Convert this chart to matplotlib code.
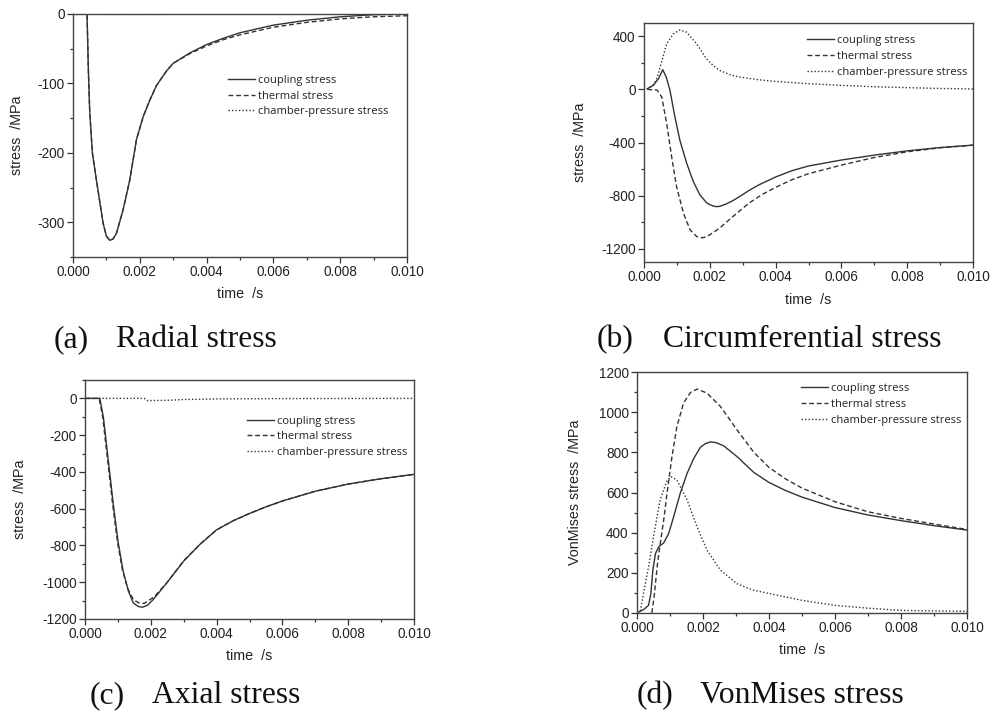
import matplotlib
matplotlib.use('Agg')
import matplotlib.pyplot as plt
from matplotlib.ticker import MultipleLocator, FormatStrFormatter

plt.rcParams['font.family'] = 'Liberation Sans'
plt.rcParams['axes.unicode_minus'] = False

# (a) radial stress
t_a_coup = [0, 0.0002, 0.00042, 0.00046, 0.0005, 0.00058, 0.0007, 0.0009, 0.001, 0.0011, 0.0012,
            0.0013, 0.0015, 0.0017, 0.0019, 0.0021, 0.0023, 0.0025, 0.0028, 0.003, 0.0035, 0.004,
            0.0045, 0.005, 0.006, 0.007, 0.008, 0.009, 0.010]
s_a_coup = [0, 0, 0, -80, -140, -200, -239, -301, -320, -326, -324,
            -316, -282, -239, -181, -148, -124, -103, -82, -71, -56, -44,
            -35, -27, -16, -9, -4, -1, 0]
t_a_therm = t_a_coup
s_a_therm = [0, 0, 0, -80, -140, -200, -239, -301, -320, -326, -324,
             -316, -282, -239, -181, -148, -124, -103, -82, -71, -57, -46,
             -37, -30, -19, -12, -7, -4, -2.5]
t_a_cham = [0, 0.0004, 0.0012, 0.0026, 0.004, 0.010]
s_a_cham = [0, 0, -0.5, -0.5, 0, 0]

# (b) circumferential stress
t_b_coup = [0.0001, 0.00028, 0.00044, 0.00057, 0.00068, 0.00079, 0.00094, 0.00109, 0.0013, 0.0015,
            0.0017, 0.0019, 0.002, 0.0021, 0.0022, 0.0023, 0.0025, 0.0027, 0.0029, 0.0032,
            0.0035, 0.004, 0.0045, 0.005, 0.006, 0.007, 0.008, 0.009, 0.010]
s_b_coup = [5, 30, 80, 148, 90, -8, -208, -383, -558, -695,
            -795, -853, -868, -878, -883, -881, -863, -838, -808, -760,
            -718, -660, -612, -577, -532, -495, -463, -438, -420]
t_b_therm = [0.0001, 0.0004, 0.00054, 0.00069, 0.00084, 0.00099, 0.0012, 0.0014, 0.0016, 0.00176,
             0.0019, 0.002, 0.0023, 0.0027, 0.0032, 0.0036, 0.004, 0.0045, 0.005, 0.006,
             0.007, 0.008, 0.009, 0.010]
s_b_therm = [0, -5, -58, -258, -508, -733, -933, -1058, -1108, -1118,
             -1110, -1095, -1045, -958, -855, -790, -738, -680, -635, -570,
             -513, -470, -440, -420]
t_b_cham = [0.0001, 0.0003, 0.0004, 0.00049, 0.00069, 0.00089, 0.00109, 0.0013, 0.0016, 0.0019,
            0.0021, 0.0023, 0.0026, 0.0029, 0.0035, 0.004, 0.005, 0.006, 0.007, 0.008,
            0.009, 0.010]
s_b_cham = [0, 40, 90, 168, 343, 418, 448, 430, 343, 230,
            180, 143, 112, 93, 72, 60, 43, 30, 20, 13,
            7, 3]

# (c) axial stress
t_c_coup = [0, 0.00045, 0.00056, 0.00071, 0.00086, 0.00101, 0.00116, 0.00132, 0.00147, 0.00162,
            0.00175, 0.0019, 0.00207, 0.00248, 0.003, 0.0035, 0.004, 0.0045, 0.005, 0.0055,
            0.006, 0.007, 0.008, 0.009, 0.010]
s_c_coup = [0, 0, -104, -340, -576, -785, -940, -1049, -1113, -1132,
            -1136, -1125, -1095, -1005, -885, -793, -715, -666, -626, -590,
            -558, -505, -466, -437, -413]
t_c_therm = [0, 0.00043, 0.00054, 0.00069, 0.00084, 0.00099, 0.00114, 0.0013, 0.00147, 0.00163,
             0.0018, 0.0021, 0.0025, 0.003, 0.0035, 0.004, 0.0045, 0.005, 0.0055, 0.006,
             0.007, 0.008, 0.009, 0.010]
s_c_therm = [0, 0, -104, -340, -576, -785, -935, -1035, -1095, -1112,
             -1115, -1080, -1000, -883, -793, -715, -666, -626, -590, -558,
             -505, -466, -437, -413]
t_c_cham = [0, 0.0018, 0.0019, 0.0026, 0.003, 0.004, 0.006, 0.010]
s_c_cham = [0, 0, -12, -10, -6, -3, -1, 0]

# (d) VonMises stress
t_d_coup = [0.00005, 0.0002, 0.00035, 0.00042, 0.00048, 0.00056, 0.00066, 0.00081, 0.00096, 0.00111,
            0.00131, 0.00152, 0.00172, 0.00192, 0.00207, 0.00222, 0.0024, 0.00263, 0.00303, 0.00354,
            0.004, 0.0045, 0.005, 0.006, 0.007, 0.008, 0.009, 0.010]
s_d_coup = [5, 17, 38, 97, 213, 296, 330, 349, 396, 479,
            596, 696, 770, 825, 843, 852, 848, 832, 779, 700,
            650, 610, 577, 525, 488, 460, 435, 413]
t_d_therm = [0.00045, 0.00053, 0.00061, 0.00069, 0.00081, 0.00091, 0.00106, 0.00121, 0.00141, 0.00162,
             0.00182, 0.00212, 0.00253, 0.00303, 0.00354, 0.004, 0.0045, 0.005, 0.006, 0.007,
             0.008, 0.009, 0.010]
s_d_therm = [0, 97, 230, 330, 463, 596, 779, 929, 1045, 1098,
             1115, 1095, 1028, 912, 800, 725, 668, 622, 554, 504,
             471, 443, 416]
t_d_cham = [0.0001, 0.0002, 0.00035, 0.0005, 0.0007, 0.0009, 0.00103, 0.00121, 0.00152, 0.00182,
            0.00212, 0.00253, 0.00303, 0.0035, 0.004, 0.005, 0.006, 0.007, 0.008, 0.010]
s_d_cham = [10, 100, 230, 380, 563, 655, 679, 662, 562, 429,
            313, 213, 146, 115, 97, 63, 38, 24, 13, 8]

labels = ['coupling stress', 'thermal stress', 'chamber-pressure stress']
captions = [('(a)', 'Radial stress'), ('(b)', 'Circumferential stress'),
            ('(c)', 'Axial stress'), ('(d)', 'VonMises stress')]

W, H = 990, 711
line_col = '#333333'


def px_axes(fig, left, top, right, bottom):
    return fig.add_axes([left / W, 1 - bottom / H, (right - left) / W, (bottom - top) / H])


def draw_panel(ax, series, ylim, ymajor, yminor, ylabel, leg_anchor, ylab_x, xlab_y):
    (tc, sc), (tt, st), (tp, sp) = series
    ax.plot(tc, sc, color=line_col, lw=1.0, ls='-', label=labels[0])
    ax.plot(tt, st, color=line_col, lw=1.0, ls=(0, (3.5, 2)), label=labels[1])
    ax.plot(tp, sp, color=line_col, lw=1.0, ls=(0, (1, 1.5)), label=labels[2])
    ax.set_xlim(0, 0.010)
    ax.set_ylim(*ylim)
    ax.xaxis.set_major_locator(MultipleLocator(0.002))
    ax.xaxis.set_minor_locator(MultipleLocator(0.001))
    ax.xaxis.set_major_formatter(FormatStrFormatter('%.3f'))
    ax.yaxis.set_major_locator(MultipleLocator(ymajor))
    ax.yaxis.set_minor_locator(MultipleLocator(yminor))
    ax.tick_params(which='both', direction='out', top=False, right=False,
                   colors='#333333', labelcolor='#222222', labelsize=9.8, width=0.9)
    ax.tick_params(which='major', length=4, pad=2)
    ax.tick_params(which='minor', length=2.5)
    for sp_ in ax.spines.values():
        sp_.set_color('#444444')
        sp_.set_linewidth(1.0)
    ax.set_xlabel('time  /s', fontsize=10.3, color='#222222')
    ax.set_ylabel(ylabel, fontsize=10.3, color='#222222')
    ax.xaxis.set_label_coords(0.5, xlab_y)
    ax.yaxis.set_label_coords(ylab_x, 0.5)
    leg = ax.legend(loc='upper left', bbox_to_anchor=leg_anchor, frameon=False,
                    prop={'family': 'Open Sans', 'size': 8}, handlelength=2.4,
                    handletextpad=0.3, labelspacing=0.43, borderpad=0, borderaxespad=0)
    for txt in leg.get_texts():
        txt.set_color('#222222')


fig = plt.figure(figsize=(9.9, 7.11), dpi=100)

ax_a = px_axes(fig, 73, 14, 407, 257)
draw_panel(ax_a, [(t_a_coup, s_a_coup), (t_a_therm, s_a_therm), (t_a_cham, s_a_cham)],
           (-350, 0), 100, 50, 'stress  /MPa', (0.464, 0.75), -0.147, -0.123)

ax_b = px_axes(fig, 644, 23, 973, 262)
draw_panel(ax_b, [(t_b_coup, s_b_coup), (t_b_therm, s_b_therm), (t_b_cham, s_b_cham)],
           (-1300, 500), 400, 200, 'stress  /MPa', (0.495, 0.95), -0.173, -0.13)

ax_c = px_axes(fig, 85, 380, 414, 619)
draw_panel(ax_c, [(t_c_coup, s_c_coup), (t_c_therm, s_c_therm), (t_c_cham, s_c_cham)],
           (-1200, 100), 200, 100, 'stress  /MPa', (0.492, 0.851), -0.176, -0.126)

ax_d = px_axes(fig, 637, 372, 967, 613)
draw_panel(ax_d, [(t_d_coup, s_d_coup), (t_d_therm, s_d_therm), (t_d_cham, s_d_cham)],
           (0, 1200), 200, 100, 'VonMises stress  /MPa', (0.498, 0.954), -0.167, -0.124)

# captions below each panel
cap_pos = [(54, 116, 347), (597, 663, 347), (90, 152, 703), (637, 700, 703)]
for (tag, text), (x_tag, x_txt, y_base) in zip(captions, cap_pos):
    fig.text(x_tag / W, 1 - y_base / H, tag, fontsize=22.8, family='Liberation Serif',
             color='#111111', va='baseline')
    fig.text(x_txt / W, 1 - y_base / H, text, fontsize=22.8, family='Liberation Serif',
             color='#111111', va='baseline')

fig.savefig('out.png', dpi=100)
